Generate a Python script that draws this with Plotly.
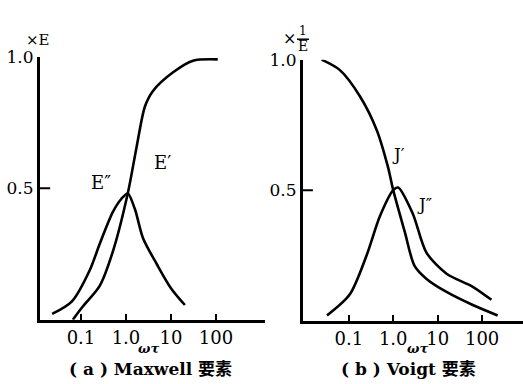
import plotly.graph_objects as go

# Maxwell element: log10(ωτ) and normalised moduli (× E)
maxwell_loss_logwt = [-1.64, -1.2, -0.8, -0.58, -0.29, -0.1, 0.04, 0.2, 0.38, 0.69, 1.0, 1.31]
maxwell_loss = [0.022, 0.07, 0.19, 0.29, 0.41, 0.46, 0.48, 0.42, 0.31, 0.21, 0.12, 0.056]

maxwell_storage_logwt = [-1.18, -0.96, -0.58, -0.29, 0.04, 0.24, 0.42, 0.6, 1.04, 1.49, 2.04]
maxwell_storage = [0.0, 0.05, 0.13, 0.26, 0.48, 0.66, 0.81, 0.87, 0.94, 0.985, 0.99]

# Voigt element: log10(ωτ) and normalised compliances (× 1/E)
voigt_storage_logwt = [-1.61, -1.2, -0.75, -0.37, -0.12, 0.0, 0.26, 0.48, 0.75, 1.2, 1.79, 2.35]
voigt_storage = [1.0, 0.96, 0.86, 0.73, 0.59, 0.5, 0.34, 0.21, 0.16, 0.11, 0.06, 0.02]

voigt_loss_logwt = [-1.49, -0.98, -0.6, -0.3, 0.0, 0.11, 0.44, 0.75, 1.2, 1.79, 2.21]
voigt_loss = [0.02, 0.1, 0.25, 0.4, 0.5, 0.51, 0.41, 0.26, 0.18, 0.13, 0.08]

x_tick_vals = [0.1, 1, 10, 100]
x_tick_text = ["0.1", "1.0", "10", "100"]
y_tick_vals = [0.5, 1.0]
y_tick_text = ["0.5", "1.0"]

W, H = 523, 384
SERIF = "DejaVu Serif"
CJK = "DejaVu Serif, Noto Sans CJK SC"


def px(x):
    return x / W


def py(y):
    return 1 - y / H


fig = go.Figure()

curve = dict(color="black", width=2.6, shape="spline", smoothing=0.8)
for lx, v, xa, ya in [
    (maxwell_loss_logwt, maxwell_loss, "x", "y"),
    (maxwell_storage_logwt, maxwell_storage, "x", "y"),
    (voigt_storage_logwt, voigt_storage, "x2", "y2"),
    (voigt_loss_logwt, voigt_loss, "x2", "y2"),
]:
    fig.add_trace(go.Scatter(
        x=[10 ** t for t in lx], y=v, mode="lines", line=curve,
        xaxis=xa, yaxis=ya, showlegend=False, hoverinfo="skip",
    ))

xaxis_common = dict(
    type="log", tickvals=x_tick_vals, ticktext=x_tick_text,
    ticks="inside", ticklen=6, tickwidth=2, tickcolor="black",
    showline=True, linecolor="black", linewidth=3, showgrid=False,
    zeroline=False, tickfont=dict(family=SERIF, size=18, color="black"),
)
yaxis_common = dict(
    range=[0, 1.0], tickvals=y_tick_vals, ticktext=y_tick_text,
    ticks="", showline=True, linecolor="black", linewidth=3,
    showgrid=False, zeroline=False,
    tickfont=dict(family=SERIF, size=17, color="black"),
)

fig.update_layout(
    width=W, height=H, margin=dict(l=0, r=0, t=0, b=0),
    paper_bgcolor="white", plot_bgcolor="white",
    xaxis=dict(xaxis_common, domain=[px(40), px(265)], range=[-1.91, 3.09], anchor="y"),
    yaxis=dict(yaxis_common, domain=[py(318), py(48)], anchor="x"),
    xaxis2=dict(xaxis_common, domain=[px(303), 1.0], range=[-2.03, 2.92], anchor="y2"),
    yaxis2=dict(yaxis_common, domain=[py(319), py(51)], anchor="x2"),
)

# inward ticks at 0.5 on each vertical axis
for xr, yr in [("x domain", "y"), ("x2 domain", "y2")]:
    fig.add_shape(type="line", xref=xr, yref=yr, x0=0, x1=0.045, y0=0.5, y1=0.5,
                  line=dict(color="black", width=2))


def label(text, x, y, size=17, family=SERIF, **kw):
    fig.add_annotation(text=text, x=px(x), y=py(y), xref="paper", yref="paper",
                       showarrow=False, xanchor="center", yanchor="middle",
                       font=dict(family=family, size=size, color="black"), **kw)


# curve labels
label("E′", 162, 157, size=18)
label("E″", 101, 177, size=18)
label("J′", 398, 148, size=17)
label("J″", 424, 199, size=17)

# axis unit markers
label("×E", 38, 31, size=15)
label("×", 289, 29, size=16)
label("1", 303, 22, size=12)
label("E", 303, 37, size=14)
fig.add_shape(type="line", xref="paper", yref="paper",
              x0=px(297), x1=px(309), y0=py(30), y1=py(30),
              line=dict(color="black", width=1.5))

# x-axis names and panel captions
label("<i><b>ωτ</b></i>", 148, 348, size=13)
label("<i><b>ωτ</b></i>", 417, 348, size=13)
label("<b>( a ) Maxwell 要素</b>", 150, 369, size=17, family=CJK)
label("<b>( b ) Voigt 要素</b>", 408, 369, size=17, family=CJK)

fig.write_html("out.html")
